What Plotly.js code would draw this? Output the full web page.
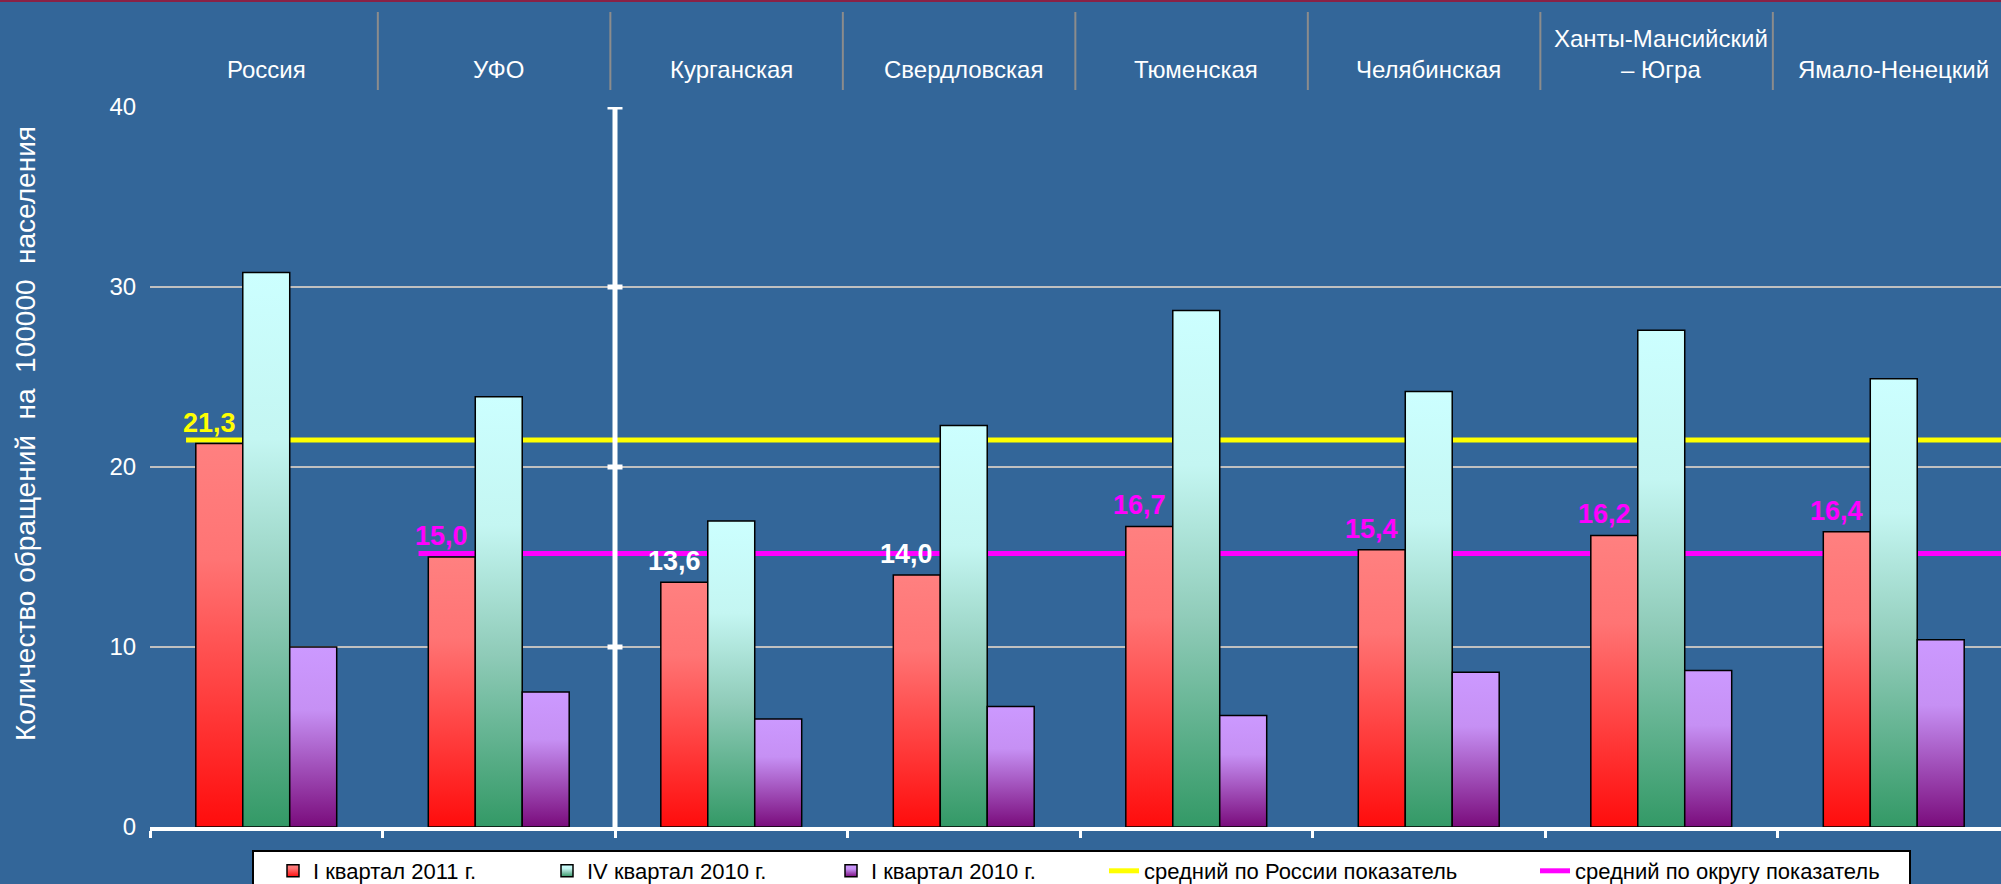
<!DOCTYPE html>
<html>
<head>
<meta charset="utf-8">
<script src="https://cdn.plot.ly/plotly-3.0.1.min.js"></script>
<style>
  html, body { margin: 0; padding: 0; background: #336699; }
  #chart { width: 2001px; height: 884px; }
</style>
</head>
<body>
<div id="chart"></div>
<script>
// ---- data ----
const categories = ['Россия', 'УФО', 'Курганская', 'Свердловская', 'Тюменская', 'Челябинская', 'Ханты-Мансийский<br>– Югра', 'Ямало-Ненецкий'];
const q1_2011 = [21.3, 15.0, 13.6, 14.0, 16.7, 15.4, 16.2, 16.4];
const q4_2010 = [30.8, 23.9, 17.0, 22.3, 28.7, 24.2, 27.6, 24.9];
const q1_2010 = [10.0, 7.5, 6.0, 6.7, 6.2, 8.6, 8.7, 10.4];
const russiaAvg = 21.5;
const districtAvg = 15.2;
const seriesNames = ['I квартал 2011 г.', 'IV квартал 2010 г.', 'I квартал 2010 г.', 'средний по России показатель', 'средний по округу показатель'];
const yTickVals = [0, 10, 20, 30, 40];
const yTitle = 'Количество обращений  на  100000  населения';

// ---- style ----
const FONT = 'Liberation Sans, Arial, sans-serif';
const BG = '#336699';
const W = 2001, H = 884;
const M = { l: 150, r: 0, t: 107, b: 57, autoexpand: false };
const plotW = W - M.l - M.r;
const plotH = H - M.t - M.b;
const catPx = 232.5;
const xmin = -0.5;
const xmax = xmin + plotW / catPx;
const px2paperX = px => (px - M.l) / plotW;
const px2paperY = py => (H - M.b - py) / plotH;
const gradStops = [
  [[0, '#ff8080'], [0.3, '#ff7474'], [1, '#ff0c0c']],
  [[0, '#ccffff'], [0.3, '#c4f6f2'], [0.6, '#8fcbb8'], [1, '#339966']],
  [[0, '#cc99ff'], [0.35, '#c690f4'], [1, '#7a0c7c']]
];
const baseColors = ['#ff5050', '#80c8b0', '#b070d0'];
const legendTextStart = [316, 590, 874, 1147, 1578];
const legendIds = ['legend', 'legend2', 'legend3', 'legend4', 'legend5'];

const barSeries = [q1_2011, q4_2010, q1_2010];
const data = barSeries.map((vals, i) => ({
  type: 'bar', name: seriesNames[i], x: categories, y: vals,
  xaxis: 'x2', yaxis: 'y2', legend: legendIds[i],
  marker: { color: baseColors[i], line: { color: '#000000', width: 1.5 } },
  hoverinfo: 'skip'
}));
const lastIdx = categories.length - 1;
data.push({
  type: 'scatter', mode: 'lines', name: seriesNames[3], legend: legendIds[3],
  x: [0 - 0.345, lastIdx + 0.5], y: [russiaAvg, russiaAvg],
  xaxis: 'x', yaxis: 'y', line: { color: '#ffff00', width: 5 }, hoverinfo: 'skip'
});
data.push({
  type: 'scatter', mode: 'lines', name: seriesNames[4], legend: legendIds[4],
  x: [1 - 0.345, lastIdx + 0.5], y: [districtAvg, districtAvg],
  xaxis: 'x', yaxis: 'y', line: { color: '#ff00ff', width: 5 }, hoverinfo: 'skip'
});

const boundaries = categories.map((c, i) => i - 0.5).concat([categories.length - 0.5]);
const sepBoundary = 1.5;

const annotations = [];
// header labels
categories.forEach(c => annotations.push({
  xref: 'x2', yref: 'paper', x: c, y: 1 + 22 / plotH, yanchor: 'bottom', xanchor: 'center',
  text: c, showarrow: false, font: { family: FONT, size: 24, color: '#ffffff' }
}));
// value labels on the I квартал 2011 bars
q1_2011.forEach((v, i) => {
  const col = i === 0 ? '#ffff00' : (i === 1 || v >= districtAvg ? '#ff00ff' : '#ffffff');
  annotations.push({
    xref: 'x2', yref: 'y2', x: categories[i], y: v, yanchor: 'bottom', xanchor: 'center',
    xshift: -57, yshift: 4, text: v.toFixed(1).replace('.', ','), showarrow: false,
    font: { family: FONT, size: 27, color: col, weight: 'bold' }
  });
});
// y axis title
annotations.push({
  xref: 'paper', yref: 'paper', x: px2paperX(25), y: px2paperY(434), xanchor: 'center', yanchor: 'middle',
  textangle: -90, text: yTitle, showarrow: false, font: { family: FONT, size: 28, color: '#ffffff' }
});

const shapes = boundaries.slice(0, categories.length).map(b => ({
  type: 'line', xref: 'x', yref: 'paper', x0: b - 0.02, x1: b - 0.02,
  y0: 1 + 17 / plotH, y1: 1 + 95 / plotH, line: { color: '#8c8c8c', width: 2 }
}));
// thin top border
shapes.push({
  type: 'rect', xref: 'paper', yref: 'paper', x0: -0.2, x1: 1.2,
  y0: px2paperY(2), y1: px2paperY(-2), line: { width: 0 }, fillcolor: '#8a2246'
});
// white separator axis between УФО and regions
shapes.push({
  type: 'line', xref: 'x', yref: 'y', x0: sepBoundary, x1: sepBoundary, y0: 0, y1: yTickVals[yTickVals.length - 1],
  line: { color: '#ffffff', width: 5 }
});
yTickVals.slice(1).forEach(v => shapes.push({
  type: 'line', xref: 'x', yref: 'y', x0: sepBoundary - 7.5 / catPx, x1: sepBoundary + 7.5 / catPx, y0: v, y1: v,
  line: { color: '#ffffff', width: 5 }
}));
// legend box
shapes.push({
  type: 'rect', xref: 'paper', yref: 'paper', x0: px2paperX(253), x1: px2paperX(1910),
  y0: px2paperY(851), y1: px2paperY(900), line: { color: '#000000', width: 2 }, fillcolor: '#ffffff'
});

const layout = {
  width: W, height: H, margin: M,
  paper_bgcolor: BG, plot_bgcolor: BG,
  font: { family: FONT, color: '#ffffff' },
  barmode: 'group', bargap: 0.394, bargroupgap: 0,
  showlegend: true,
  xaxis: {
    type: 'linear', range: [xmin, xmax], tickmode: 'array', tickvals: boundaries,
    showticklabels: false, ticks: 'outside', ticklen: 7, tickwidth: 3, tickcolor: '#ffffff',
    showline: true, linecolor: '#ffffff', linewidth: 4, showgrid: false, zeroline: false, fixedrange: true
  },
  yaxis: {
    range: [0, 40], tickmode: 'array', tickvals: yTickVals,
    ticks: 'outside', ticklen: 8, tickcolor: 'rgba(0,0,0,0)',
    tickfont: { family: FONT, size: 24, color: '#ffffff' },
    showgrid: true, gridcolor: '#c0c0c0', gridwidth: 2, zeroline: false, showline: false,
    fixedrange: true
  },
  xaxis2: {
    type: 'category', overlaying: 'x', anchor: 'y2', range: [xmin, xmax],
    visible: false, showgrid: false, zeroline: false, fixedrange: true
  },
  yaxis2: {
    overlaying: 'y', anchor: 'x2', range: [0, 40], visible: false,
    showgrid: false, zeroline: false, fixedrange: true
  },
  annotations: annotations,
  shapes: shapes
};
legendIds.forEach((id, i) => {
  layout[id] = {
    orientation: 'h', x: px2paperX(legendTextStart[i] - 43), y: px2paperY(871),
    xanchor: 'left', yanchor: 'middle', bgcolor: 'rgba(0,0,0,0)', borderwidth: 0,
    font: { family: FONT, size: 22, color: '#000000' }
  };
});

function applyGradients(gd) {
  const ns = 'http://www.w3.org/2000/svg';
  const svg = gd.querySelector('svg.main-svg');
  let defs = svg.querySelector('defs');
  if (!defs) { defs = document.createElementNS(ns, 'defs'); svg.insertBefore(defs, svg.firstChild); }
  gradStops.forEach((stops, i) => {
    const g = document.createElementNS(ns, 'linearGradient');
    g.setAttribute('id', 'barGrad' + i);
    g.setAttribute('x1', '0'); g.setAttribute('y1', '0');
    g.setAttribute('x2', '0'); g.setAttribute('y2', '1');
    stops.forEach(([off, col]) => {
      const s = document.createElementNS(ns, 'stop');
      s.setAttribute('offset', off); s.setAttribute('stop-color', col);
      g.appendChild(s);
    });
    defs.appendChild(g);
  });
  gd.querySelectorAll('.barlayer .trace').forEach((t, i) => {
    t.querySelectorAll('path').forEach(p => { p.style.fill = 'url(#barGrad' + i + ')'; });
  });
  for (let i = 0; i < 3; i++) {
    gd.querySelectorAll('g.' + legendIds[i] + ' .legendpoints path').forEach(p => {
      p.style.fill = 'url(#barGrad' + i + ')';
    });
  }
}

const gd = document.getElementById('chart');
Plotly.newPlot(gd, data, layout, { staticPlot: true, displayModeBar: false }).then(applyGradients);
</script>
</body>
</html>
